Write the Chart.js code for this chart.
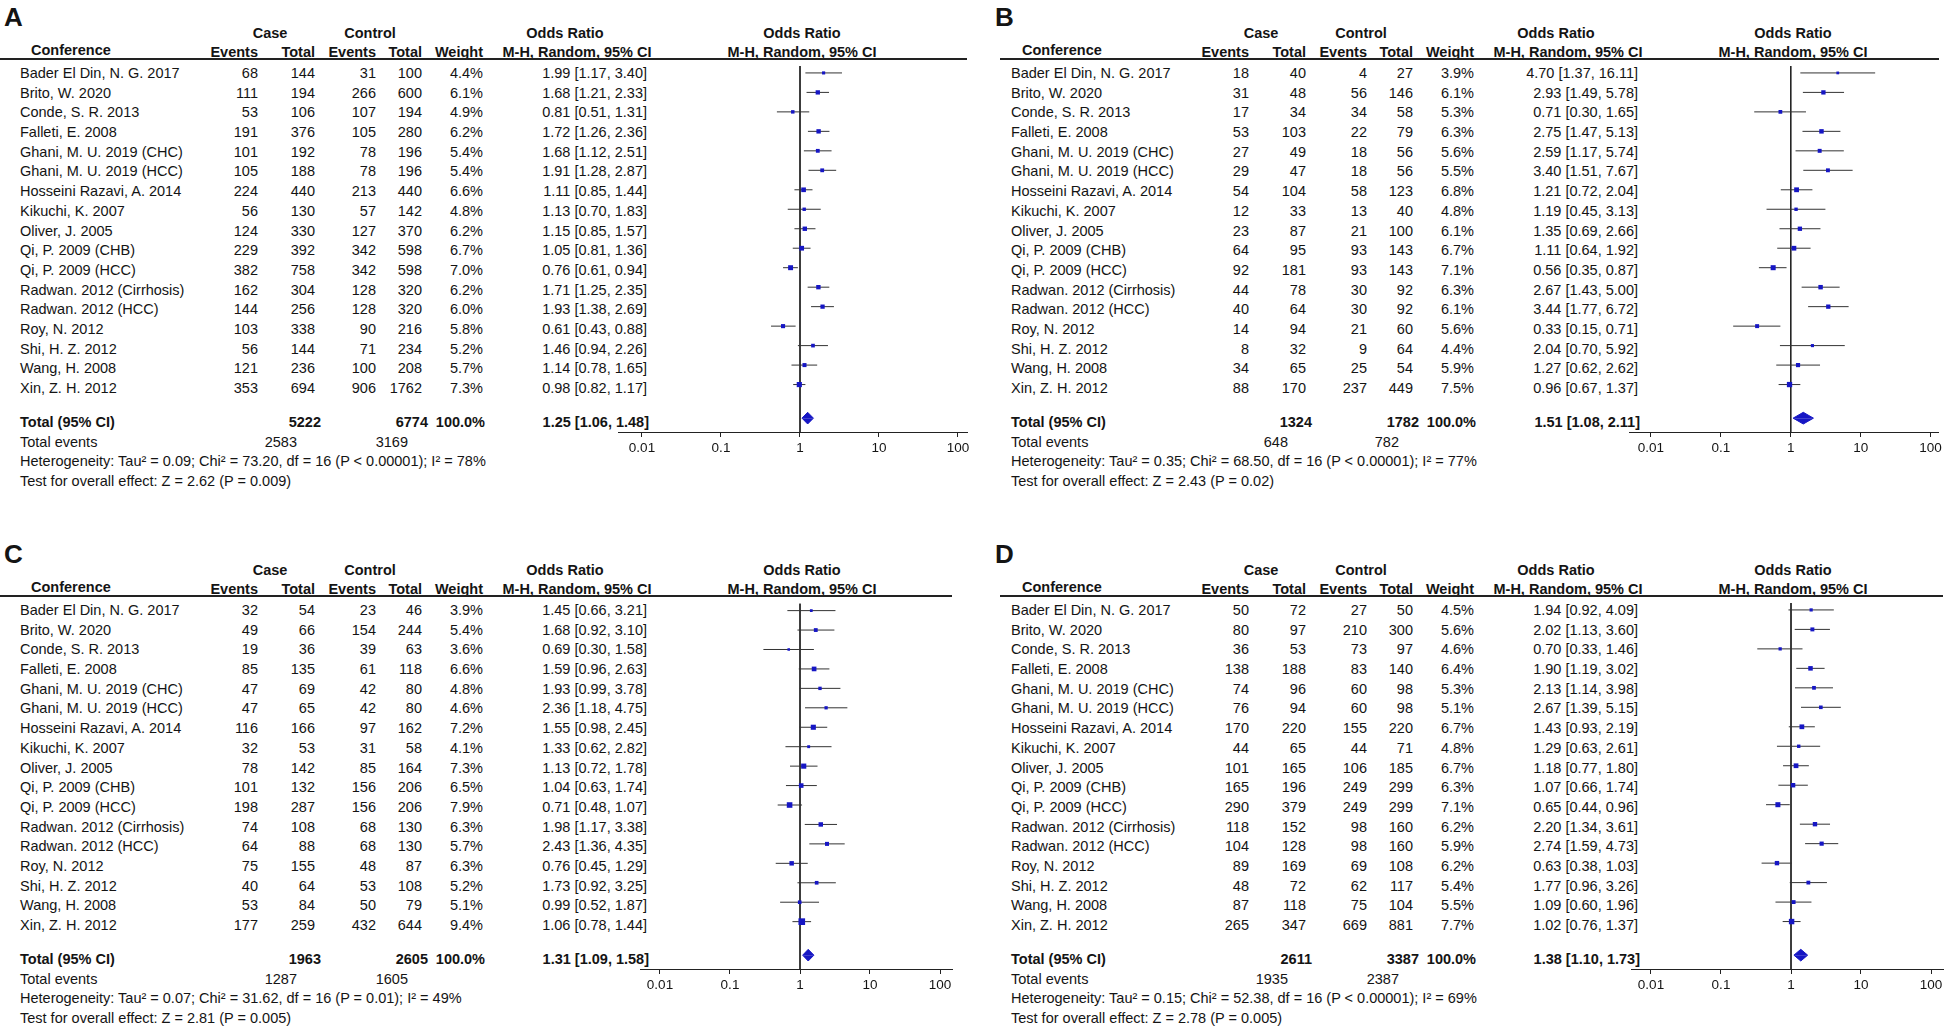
<!DOCTYPE html>
<html>
<head>
<meta charset="utf-8">
<script src="https://cdn.jsdelivr.net/npm/chart.js@4.4.1/dist/chart.umd.min.js"></script>
<style>
body { margin:0; background:#fff; width:1949px; height:1033px; overflow:hidden; position:relative;
       font-family:"Liberation Sans", Arial, sans-serif; color:#141414; }
.panel { position:absolute; width:975px; height:500px; }
.t { position:absolute; white-space:nowrap; font-size:14.5px; line-height:18px; }
.b { font-weight:bold; }
.r { transform:translateX(-100%); }
.c { transform:translateX(-50%); }
.lab { position:absolute; font-size:26px; line-height:26px; font-weight:bold; }
.hl { position:absolute; height:1.5px; background:#222; }
canvas { position:absolute; }
</style>
</head>
<body>
<script>
const studies = ['Bader El Din, N. G. 2017', 'Brito, W. 2020', 'Conde, S. R. 2013', 'Falleti, E. 2008',
  'Ghani, M. U. 2019 (CHC)', 'Ghani, M. U. 2019 (HCC)', 'Hosseini Razavi, A. 2014', 'Kikuchi, K. 2007',
  'Oliver, J. 2005', 'Qi, P. 2009 (CHB)', 'Qi, P. 2009 (HCC)', 'Radwan. 2012 (Cirrhosis)',
  'Radwan. 2012 (HCC)', 'Roy, N. 2012', 'Shi, H. Z. 2012', 'Wang, H. 2008', 'Xin, Z. H. 2012'];
const axisTicks = [0.01, 0.1, 1, 10, 100];

// A
const aCaseEv = [68, 111, 53, 191, 101, 105, 224, 56, 124, 229, 382, 162, 144, 103, 56, 121, 353];
const aCaseTot = [144, 194, 106, 376, 192, 188, 440, 130, 330, 392, 758, 304, 256, 338, 144, 236, 694];
const aCtrlEv = [31, 266, 107, 105, 78, 78, 213, 57, 127, 342, 342, 128, 128, 90, 71, 100, 906];
const aCtrlTot = [100, 600, 194, 280, 196, 196, 440, 142, 370, 598, 598, 320, 320, 216, 234, 208, 1762];
const aWeight = [4.4, 6.1, 4.9, 6.2, 5.4, 5.4, 6.6, 4.8, 6.2, 6.7, 7.0, 6.2, 6.0, 5.8, 5.2, 5.7, 7.3];
const aOr = [1.99, 1.68, 0.81, 1.72, 1.68, 1.91, 1.11, 1.13, 1.15, 1.05, 0.76, 1.71, 1.93, 0.61, 1.46, 1.14, 0.98];
const aLo = [1.17, 1.21, 0.51, 1.26, 1.12, 1.28, 0.85, 0.70, 0.85, 0.81, 0.61, 1.25, 1.38, 0.43, 0.94, 0.78, 0.82];
const aHi = [3.40, 2.33, 1.31, 2.36, 2.51, 2.87, 1.44, 1.83, 1.57, 1.36, 0.94, 2.35, 2.69, 0.88, 2.26, 1.65, 1.17];
const aPooled = [1.25, 1.06, 1.48];
const aTotals = ['5222', '6774', '100.0%', '1.25 [1.06, 1.48]'];
const aEvents = ['2583', '3169'];
const aHet = 'Heterogeneity: Tau² = 0.09; Chi² = 73.20, df = 16 (P < 0.00001); I² = 78%';
const aTest = 'Test for overall effect: Z = 2.62 (P = 0.009)';

// B
const bCaseEv = [18, 31, 17, 53, 27, 29, 54, 12, 23, 64, 92, 44, 40, 14, 8, 34, 88];
const bCaseTot = [40, 48, 34, 103, 49, 47, 104, 33, 87, 95, 181, 78, 64, 94, 32, 65, 170];
const bCtrlEv = [4, 56, 34, 22, 18, 18, 58, 13, 21, 93, 93, 30, 30, 21, 9, 25, 237];
const bCtrlTot = [27, 146, 58, 79, 56, 56, 123, 40, 100, 143, 143, 92, 92, 60, 64, 54, 449];
const bWeight = [3.9, 6.1, 5.3, 6.3, 5.6, 5.5, 6.8, 4.8, 6.1, 6.7, 7.1, 6.3, 6.1, 5.6, 4.4, 5.9, 7.5];
const bOr = [4.70, 2.93, 0.71, 2.75, 2.59, 3.40, 1.21, 1.19, 1.35, 1.11, 0.56, 2.67, 3.44, 0.33, 2.04, 1.27, 0.96];
const bLo = [1.37, 1.49, 0.30, 1.47, 1.17, 1.51, 0.72, 0.45, 0.69, 0.64, 0.35, 1.43, 1.77, 0.15, 0.70, 0.62, 0.67];
const bHi = [16.11, 5.78, 1.65, 5.13, 5.74, 7.67, 2.04, 3.13, 2.66, 1.92, 0.87, 5.00, 6.72, 0.71, 5.92, 2.62, 1.37];
const bPooled = [1.51, 1.08, 2.11];
const bTotals = ['1324', '1782', '100.0%', '1.51 [1.08, 2.11]'];
const bEvents = ['648', '782'];
const bHet = 'Heterogeneity: Tau² = 0.35; Chi² = 68.50, df = 16 (P < 0.00001); I² = 77%';
const bTest = 'Test for overall effect: Z = 2.43 (P = 0.02)';

// C
const cCaseEv = [32, 49, 19, 85, 47, 47, 116, 32, 78, 101, 198, 74, 64, 75, 40, 53, 177];
const cCaseTot = [54, 66, 36, 135, 69, 65, 166, 53, 142, 132, 287, 108, 88, 155, 64, 84, 259];
const cCtrlEv = [23, 154, 39, 61, 42, 42, 97, 31, 85, 156, 156, 68, 68, 48, 53, 50, 432];
const cCtrlTot = [46, 244, 63, 118, 80, 80, 162, 58, 164, 206, 206, 130, 130, 87, 108, 79, 644];
const cWeight = [3.9, 5.4, 3.6, 6.6, 4.8, 4.6, 7.2, 4.1, 7.3, 6.5, 7.9, 6.3, 5.7, 6.3, 5.2, 5.1, 9.4];
const cOr = [1.45, 1.68, 0.69, 1.59, 1.93, 2.36, 1.55, 1.33, 1.13, 1.04, 0.71, 1.98, 2.43, 0.76, 1.73, 0.99, 1.06];
const cLo = [0.66, 0.92, 0.30, 0.96, 0.99, 1.18, 0.98, 0.62, 0.72, 0.63, 0.48, 1.17, 1.36, 0.45, 0.92, 0.52, 0.78];
const cHi = [3.21, 3.10, 1.58, 2.63, 3.78, 4.75, 2.45, 2.82, 1.78, 1.74, 1.07, 3.38, 4.35, 1.29, 3.25, 1.87, 1.44];
const cPooled = [1.31, 1.09, 1.58];
const cTotals = ['1963', '2605', '100.0%', '1.31 [1.09, 1.58]'];
const cEvents = ['1287', '1605'];
const cHet = 'Heterogeneity: Tau² = 0.07; Chi² = 31.62, df = 16 (P = 0.01); I² = 49%';
const cTest = 'Test for overall effect: Z = 2.81 (P = 0.005)';

// D
const dCaseEv = [50, 80, 36, 138, 74, 76, 170, 44, 101, 165, 290, 118, 104, 89, 48, 87, 265];
const dCaseTot = [72, 97, 53, 188, 96, 94, 220, 65, 165, 196, 379, 152, 128, 169, 72, 118, 347];
const dCtrlEv = [27, 210, 73, 83, 60, 60, 155, 44, 106, 249, 249, 98, 98, 69, 62, 75, 669];
const dCtrlTot = [50, 300, 97, 140, 98, 98, 220, 71, 185, 299, 299, 160, 160, 108, 117, 104, 881];
const dWeight = [4.5, 5.6, 4.6, 6.4, 5.3, 5.1, 6.7, 4.8, 6.7, 6.3, 7.1, 6.2, 5.9, 6.2, 5.4, 5.5, 7.7];
const dOr = [1.94, 2.02, 0.70, 1.90, 2.13, 2.67, 1.43, 1.29, 1.18, 1.07, 0.65, 2.20, 2.74, 0.63, 1.77, 1.09, 1.02];
const dLo = [0.92, 1.13, 0.33, 1.19, 1.14, 1.39, 0.93, 0.63, 0.77, 0.66, 0.44, 1.34, 1.59, 0.38, 0.96, 0.60, 0.76];
const dHi = [4.09, 3.60, 1.46, 3.02, 3.98, 5.15, 2.19, 2.61, 1.80, 1.74, 0.96, 3.61, 4.73, 1.03, 3.26, 1.96, 1.37];
const dPooled = [1.38, 1.10, 1.73];
const dTotals = ['2611', '3387', '100.0%', '1.38 [1.10, 1.73]'];
const dEvents = ['1935', '2387'];
const dHet = 'Heterogeneity: Tau² = 0.15; Chi² = 52.38, df = 16 (P < 0.00001); I² = 69%';
const dTest = 'Test for overall effect: Z = 2.78 (P = 0.005)';

// panel A was pasted in a bit wider than the others, so its log axis has more px per decade
const panels = [
  {label: 'A', ox: 0, oy: 0, lineL: 0, dec: 79, axl: 618, axr: 967,
   ce: aCaseEv, ct: aCaseTot, ke: aCtrlEv, kt: aCtrlTot, w: aWeight, or: aOr, lo: aLo, hi: aHi, pooled: aPooled, totals: aTotals, events: aEvents, het: aHet, test: aTest},
  {label: 'B', ox: 991, oy: 0, lineL: 9, dec: 70, axl: 638, axr: 948,
   ce: bCaseEv, ct: bCaseTot, ke: bCtrlEv, kt: bCtrlTot, w: bWeight, or: bOr, lo: bLo, hi: bHi, pooled: bPooled, totals: bTotals, events: bEvents, het: bHet, test: bTest},
  {label: 'C', ox: 0, oy: 537, lineL: 0, dec: 70, axl: 640, axr: 952,
   ce: cCaseEv, ct: cCaseTot, ke: cCtrlEv, kt: cCtrlTot, w: cWeight, or: cOr, lo: cLo, hi: cHi, pooled: cPooled, totals: cTotals, events: cEvents, het: cHet, test: cTest},
  {label: 'D', ox: 991, oy: 537, lineL: 9, dec: 70, axl: 640, axr: 952,
   ce: dCaseEv, ct: dCaseTot, ke: dCtrlEv, kt: dCtrlTot, w: dWeight, or: dOr, lo: dLo, hi: dHi, pooled: dPooled, totals: dTotals, events: dEvents, het: dHet, test: dTest}
];

const ROW0 = 73, ROWH = 19.69, TOTY = 422;
const cols = [258, 315, 376, 422, 483, 647];
const BLUE = 'rgb(22,22,196)';
const X1 = 800;   // pixel of OR = 1 inside each panel
const fmt = v => v.toFixed(2);

function put(parent, x, y, s, cls) {
  const d = document.createElement('div');
  d.className = 't ' + (cls || '');
  d.style.left = x + 'px';
  d.style.top = (y - 9) + 'px';
  d.textContent = s;
  parent.appendChild(d);
}

function drawPanel(p) {
  const div = document.createElement('div');
  div.className = 'panel';
  div.style.left = p.ox + 'px';
  div.style.top = p.oy + 'px';
  document.body.appendChild(div);

  const lab = document.createElement('div');
  lab.className = 'lab';
  lab.style.left = '4px'; lab.style.top = '4px';
  lab.textContent = p.label;
  div.appendChild(lab);

  // headers
  put(div, 270, 33, 'Case', 'b c');
  put(div, 370, 33, 'Control', 'b c');
  put(div, 565, 33, 'Odds Ratio', 'b c');
  put(div, X1 + 2, 33, 'Odds Ratio', 'b c');
  put(div, 31, 50, 'Conference', 'b');
  put(div, cols[0], 52, 'Events', 'b r');
  put(div, cols[1], 52, 'Total', 'b r');
  put(div, cols[2], 52, 'Events', 'b r');
  put(div, cols[3], 52, 'Total', 'b r');
  put(div, cols[4], 52, 'Weight', 'b r');
  put(div, 577, 52, 'M-H, Random, 95% CI', 'b c');
  put(div, X1 + 2, 52, 'M-H, Random, 95% CI', 'b c');
  const hl = document.createElement('div');
  hl.className = 'hl';
  hl.style.left = p.lineL + 'px'; hl.style.top = '58px'; hl.style.width = (p.axr - p.lineL) + 'px';
  div.appendChild(hl);

  studies.forEach((s, i) => {
    const y = ROW0 + i * ROWH;
    put(div, 20, y, s);
    put(div, cols[0], y, String(p.ce[i]), 'r');
    put(div, cols[1], y, String(p.ct[i]), 'r');
    put(div, cols[2], y, String(p.ke[i]), 'r');
    put(div, cols[3], y, String(p.kt[i]), 'r');
    put(div, cols[4], y, p.w[i].toFixed(1) + '%', 'r');
    put(div, cols[5], y, fmt(p.or[i]) + ' [' + fmt(p.lo[i]) + ', ' + fmt(p.hi[i]) + ']', 'r');
  });

  put(div, 20, TOTY, 'Total (95% CI)', 'b');
  put(div, 321, TOTY, p.totals[0], 'b r');
  put(div, 428, TOTY, p.totals[1], 'b r');
  put(div, 485, TOTY, p.totals[2], 'b r');
  put(div, 649, TOTY, p.totals[3], 'b r');
  put(div, 20, TOTY + 19.5, 'Total events');
  put(div, 297, TOTY + 19.5, p.events[0], 'r');
  put(div, 408, TOTY + 19.5, p.events[1], 'r');
  put(div, 20, TOTY + 39, p.het);
  put(div, 20, TOTY + 59, p.test);

  drawForest(div, p);
}

function drawForest(div, p) {
  const areaTop = 62, axisY = 432, pad = 6, axisH = 32;
  const W = p.axr - p.axl + 2 * pad, H = axisY - areaTop + axisH;
  const cv = document.createElement('canvas');
  cv.width = W; cv.height = H;
  cv.style.left = (p.axl - pad) + 'px'; cv.style.top = areaTop + 'px';
  cv.style.width = W + 'px'; cv.style.height = H + 'px';
  div.appendChild(cv);

  const xMin = Math.pow(10, (p.axl - X1) / p.dec);
  const xMax = Math.pow(10, (p.axr - X1) / p.dec);
  const rowC = ROW0 - 4;
  const yMin = -(rowC - areaTop) / ROWH;
  const yMax = yMin + (axisY - areaTop) / ROWH;
  const tot = (TOTY - 4 - rowC) / ROWH;
  const h = 0.3;
  const [pe, pl, ph] = p.pooled;

  const datasets = [
    {data: p.or.map((v, i) => ({x: v, y: i})), showLine: false, pointStyle: 'rect',
     pointRadius: p.w.map(w => w * 0.5), pointBackgroundColor: BLUE, pointBorderWidth: 0, order: 0},
    {data: [{x: pl, y: tot}, {x: pe, y: tot - h}, {x: ph, y: tot}], borderColor: BLUE, borderWidth: 1,
     backgroundColor: BLUE, fill: {value: tot}, pointRadius: 0, order: 1},
    {data: [{x: pl, y: tot}, {x: pe, y: tot + h}, {x: ph, y: tot}], borderColor: BLUE, borderWidth: 1,
     backgroundColor: BLUE, fill: {value: tot}, pointRadius: 0, order: 1},
    {data: [{x: 1, y: yMin}, {x: 1, y: yMax}], borderColor: '#222', borderWidth: 1, pointRadius: 0, order: 3}
  ];
  p.lo.forEach((l, i) => {
    datasets.push({data: [{x: l, y: i}, {x: p.hi[i], y: i}], borderColor: '#333', borderWidth: 1,
                   pointRadius: 0, order: 2});
  });

  new Chart(cv, {
    type: 'line',
    data: {datasets: datasets},
    options: {
      responsive: false,
      animation: false,
      events: [],
      clip: false,
      layout: {padding: {left: pad, right: pad, top: 0, bottom: 0}},
      plugins: {legend: {display: false}, tooltip: {enabled: false}},
      scales: {
        x: {
          type: 'logarithmic', min: xMin, max: xMax,
          afterBuildTicks: s => { s.ticks = axisTicks.map(v => ({value: v})); },
          afterFit: s => { s.height = axisH; },
          ticks: {callback: v => String(v), color: '#141414', maxRotation: 0, autoSkip: false, padding: 3,
                  font: {family: '"Liberation Sans", Arial, sans-serif', size: 13.5}},
          grid: {display: true, drawOnChartArea: false, drawTicks: true, tickLength: 5, color: '#222', lineWidth: 1},
          border: {display: true, color: '#222', width: 1}
        },
        y: {type: 'linear', reverse: true, min: yMin, max: yMax, display: false}
      }
    }
  });
}

panels.forEach(drawPanel);
</script>
</body>
</html>
